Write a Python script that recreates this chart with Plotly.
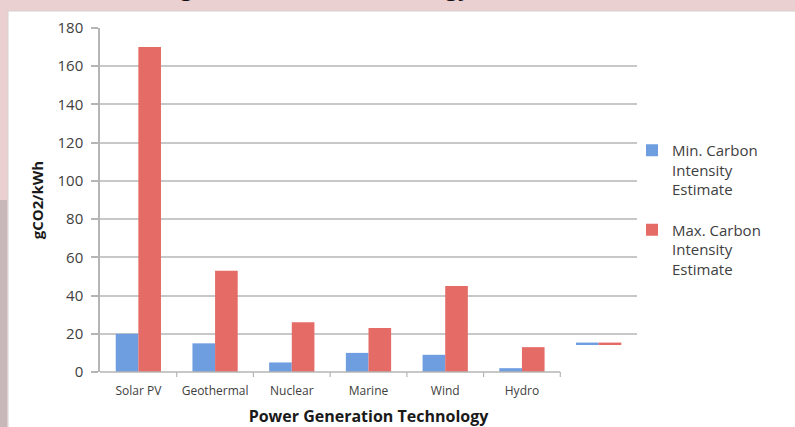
import plotly.graph_objects as go

# ---- data ----
categories = ["Solar PV", "Geothermal", "Nuclear", "Marine", "Wind", "Hydro", " "]
min_values = [20, 15, 5, 10, 9, 2, 0.8]
max_values = [170, 53, 26, 23, 45, 13, 0.8]
bar_bases = [0, 0, 0, 0, 0, 0, 14.6]
min_name = "Min. Carbon<br>Intensity<br>Estimate"
max_name = "Max. Carbon<br>Intensity<br>Estimate"
y_ticks = [0, 20, 40, 60, 80, 100, 120, 140, 160, 180]
title_text = "Estimating Low Carbon Technology"

W, H = 795, 427
L, R, T, B = 100, 158, 28, 55
PW, PH = W - L - R, H - T - B

def px_x(px):
    return (px - L) / PW

def px_y(py):
    return (H - B - py) / PH

FONT = "Open Sans"
BLUE = "#6f9ee0"
RED = "#e56b67"

fig = go.Figure()
fig.add_trace(go.Bar(x=categories, y=min_values, base=bar_bases, name=min_name,
                     marker=dict(color=BLUE, line=dict(width=0)), legendgroup="a"))
fig.add_trace(go.Bar(x=categories, y=max_values, base=bar_bases, name=max_name,
                     marker=dict(color=RED, line=dict(width=0)), legendgroup="b"))

shapes = []
# white panel on the pink page
shapes.append(dict(type="rect", xref="paper", yref="paper",
                   x0=px_x(8), x1=px_x(W + 5), y0=px_y(H + 5), y1=px_y(11),
                   fillcolor="white", line=dict(color="#d8d0d0", width=1), layer="below"))
# left darker strip
shapes.append(dict(type="rect", xref="paper", yref="paper",
                   x0=px_x(0), x1=px_x(7), y0=px_y(H), y1=px_y(200),
                   fillcolor="#c9b8b9", line=dict(width=0), layer="below"))
# x-axis line (ends after Hydro)
shapes.append(dict(type="line", xref="x", yref="paper", x0=-0.5, x1=5.5, y0=0, y1=0,
                   line=dict(color="#b5b5b5", width=1.5)))
# category boundary ticks
for b in [0.5, 1.5, 2.5, 3.5, 4.5, 5.5]:
    shapes.append(dict(type="line", xref="x", yref="paper", x0=b, x1=b,
                       y0=0, y1=-5 / PH, line=dict(color="#b5b5b5", width=1.2)))

fig.update_layout(
    width=W, height=H,
    margin=dict(l=L, r=R, t=T, b=B, autoexpand=False),
    paper_bgcolor="#ebd0d1",
    plot_bgcolor="rgba(0,0,0,0)",
    font=dict(family=FONT, color="#404040"),
    barmode="group", bargap=0.41, bargroupgap=0,
    shapes=shapes,
    showlegend=True,
    legend=dict(x=px_x(632), y=px_y(134), xanchor="left", yanchor="top",
                font=dict(size=15, color="#404040", family=FONT),
                valign="top", traceorder="grouped", tracegroupgap=18,
                bgcolor="rgba(0,0,0,0)", itemwidth=30),
    annotations=[dict(text="<b>" + title_text + "</b>", xref="paper", yref="paper",
                      x=px_x(68), y=px_y(-14), xanchor="left", yanchor="middle",
                      showarrow=False, font=dict(size=23, color="#111111", family=FONT))],
)
fig.update_yaxes(range=[0, 180], tickvals=y_ticks, showgrid=True, gridcolor="#c8c8c8",
                 gridwidth=1.5, showline=True, linecolor="#b5b5b5", linewidth=1.5,
                 ticks="outside", ticklen=7, tickcolor="#b5b5b5", tickwidth=1.5,
                 tickfont=dict(size=15, color="#404040"), ticklabelstandoff=5,
                 zeroline=False, automargin=False,
                 title=dict(text="<b>gCO2/kWh</b>", font=dict(size=15, color="#1a1a1a"),
                            standoff=10))
fig.update_xaxes(type="category", range=[-0.5, 6.5], showline=False, ticks="",
                 showgrid=False, tickfont=dict(size=12, color="#404040"),
                 ticklabelstandoff=10, automargin=False,
                 title=dict(text="<b>Power Generation Technology</b>",
                            font=dict(size=16, color="#1a1a1a"), standoff=25))

fig.write_html("out.html", config={"displayModeBar": False},
               post_script="document.body.style.margin='0';document.body.style.overflow='hidden';")
